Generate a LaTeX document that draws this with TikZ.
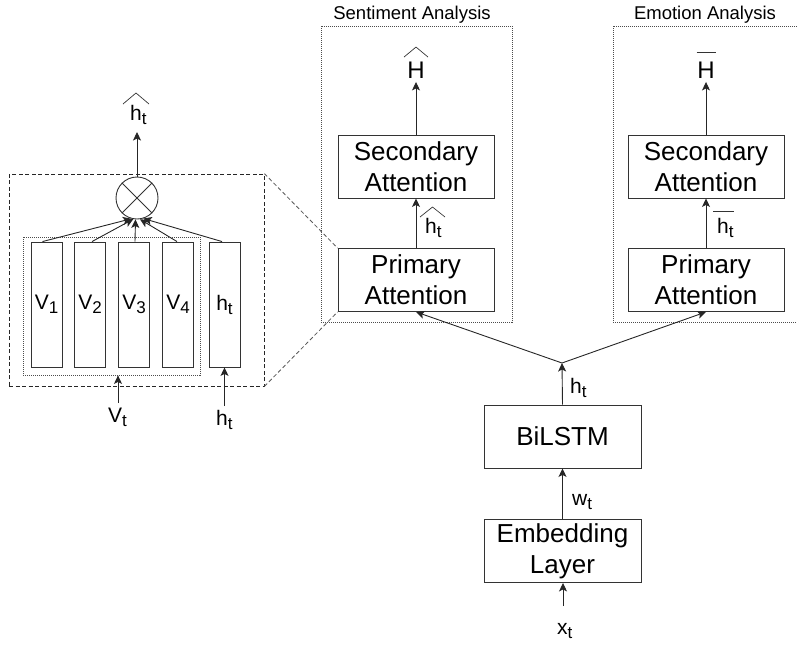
\documentclass[tikz,border=0pt]{standalone}
\usepackage{fontspec}
\setmainfont{Liberation Sans}
\usepackage{graphicx}
\usetikzlibrary{arrows.meta,calc}
\newcommand\lsb[1]{\raisebox{-4pt}{\fontsize{17}{19}\selectfont #1}}
\begin{document}
\begin{tikzpicture}[x=1pt,y=-1pt,
  box/.style={draw=black!80, line width=0.9pt, minimum width=156pt, minimum height=63pt, align=center, font=\fontsize{26}{31}\selectfont, inner sep=0pt},
  bar/.style={draw=black!80, line width=0.9pt, minimum width=31pt, minimum height=125pt, inner sep=0pt, font=\fontsize{21}{24}\selectfont},
  lbl/.style={inner sep=0pt, font=\fontsize{21}{24}\selectfont},
  ttl/.style={inner sep=0pt, font=\fontsize{18.5}{22}\selectfont, anchor=base},
  bigH/.style={inner sep=0pt, font=\fontsize{24}{28}\selectfont},
  arr/.style={draw=black!85, line width=0.9pt, -{Stealth[length=8.5pt,width=8pt,inset=2pt]}},
  dotbox/.style={draw=black!70, line width=0.8pt, dash pattern=on 1pt off 1pt, inner sep=0pt},
  dashbox/.style={draw=black!85, line width=0.8pt, dash pattern=on 4pt off 2.5pt, inner sep=0pt},
  dashlink/.style={draw=black!65, line width=0.8pt, dash pattern=on 4pt off 2.5pt},
  deco/.style={draw=black!80, line width=0.7pt},
]
\useasboundingbox (0,0) rectangle (797,648);
\clip (0,0) rectangle (797,648);

% ---------- left detail ----------
\node[dashbox, minimum width=255pt, minimum height=212pt] (zoom) at (136.5,280) {};
\node[dotbox, minimum width=177pt, minimum height=138pt] (vgrp) at (111.5,306) {};
\node[bar] (v1) at (46.5,304.5) {V\lsb{1}};
\node[bar] (v2) at (90,304.5) {V\lsb{2}};
\node[bar] (v3) at (134,304.5) {V\lsb{3}};
\node[bar] (v4) at (178,304.5) {V\lsb{4}};
\node[bar] (hb) at (224.5,304.5) {h\lsb{t}};
\node[circle, draw=black!80, line width=0.9pt, minimum size=42pt, inner sep=0pt] (mul) at (137,198) {};
\draw[deco, line width=0.9pt] (mul.north west) -- (mul.south east);
\draw[deco, line width=0.9pt] (mul.north east) -- (mul.south west);
\draw[arr] ([xshift=-4pt]v1.north) -- (mul.255);
\draw[arr] ([xshift=2pt]v2.north) -- (mul.260);
\draw[arr] ([xshift=1pt]v3.north) -- (mul.266);
\draw[arr] ([xshift=-1pt]v4.north) -- (mul.278);
\draw[arr] ([xshift=-2.5pt]hb.north) -- (mul.287);

\node[lbl, anchor=north west] (hout) at (130,105) {h\lsb{t}};
\draw[deco] ($(hout.north west)+(-7,-1)$) -- ($(hout.north west)+(6,-12)$) -- ($(hout.north west)+(19,-1)$);
\coordinate (houtA) at (137,132);
\draw[arr] (mul.north) -- (houtA);

\node[lbl, anchor=north west] (vt) at (108,408) {V\lsb{t}};
\coordinate (vtA) at (118,403);
\draw[arr] (vtA) -- (vtA |- vgrp.south);
\node[lbl, anchor=north west] (hin) at (216,410) {h\lsb{t}};
\coordinate (hinA) at (224.5,406);
\draw[arr] (hinA) -- (hb.south);

% ---------- sentiment ----------
\node[dotbox, minimum width=191pt, minimum height=296pt] (sbox) at (416.5,174) {};
\node[ttl] (stitle) at (412,19) {Sentiment Analysis};
\node[box] (ssec) at (416,166.5) {Secondary\\Attention};
\node[box] (sprim) at (416,280) {Primary\\Attention};
\node[bigH] (sH) at (416,70.5) {H};
\draw[deco] ($(sH.north)+(-12,-5)$) -- ($(sH.north)+(0,-15)$) -- ($(sH.north)+(12,-5)$);
\draw[arr] (ssec.north) -- ([yshift=-3pt]sH.south);
\draw[arr] (sprim.north) -- (ssec.south);
\node[lbl, anchor=north west] (sht) at (425,218) {h\lsb{t}};
\draw[deco] ($(sht.north west)+(-5,-1)$) -- ($(sht.north west)+(7.5,-11)$) -- ($(sht.north west)+(20,-1)$);

% ---------- emotion ----------
\node[dotbox, minimum width=220pt, minimum height=296pt] (ebox) at (723,174) {};
\node[ttl] (etitle) at (705,19) {Emotion Analysis};
\node[box] (esec) at (706,166.5) {Secondary\\Attention};
\node[box] (eprim) at (706,280) {Primary\\Attention};
\node[bigH] (eH) at (706,70.5) {H};
\draw[deco] ($(eH.north)+(-9.5,-10)$) -- ($(eH.north)+(9.5,-10)$);
\draw[arr] (esec.north) -- ([yshift=-3pt]eH.south);
\draw[arr] (eprim.north) -- (esec.south);
\node[lbl, anchor=north west] (eht) at (717,218) {h\lsb{t}};
\draw[deco] ($(eht.north west)+(-4,-7)$) -- ($(eht.north west)+(17,-7)$);

% ---------- links ----------
\draw[dashlink] (zoom.north east) -- (sprim.north west);
\draw[dashlink] (zoom.south east) -- (sprim.south west);

% ---------- encoder ----------
\coordinate (J) at (562,363);
\draw[arr] (J) -- (sprim.south);
\draw[arr] (J) -- (eprim.south);
\node[box, minimum width=157pt] (bil) at (562.5,436.5) {BiLSTM};
\node[box, minimum width=157pt] (emb) at (562.5,551) {Embedding\\Layer};
\draw[arr] (bil.north) -- (J);
\node[lbl, anchor=north west] (hJ) at (570,378) {h\lsb{t}};
\draw[arr] (emb.north) -- (bil.south);
\node[lbl, anchor=north west] (wt) at (572,494) {w\lsb{t}};
\node[lbl, anchor=north west] (xt) at (557,623) {x\lsb{t}};
\coordinate (xtA) at (563,606);
\draw[arr] (xtA) -- (xtA |- emb.south);
\end{tikzpicture}
\end{document}
